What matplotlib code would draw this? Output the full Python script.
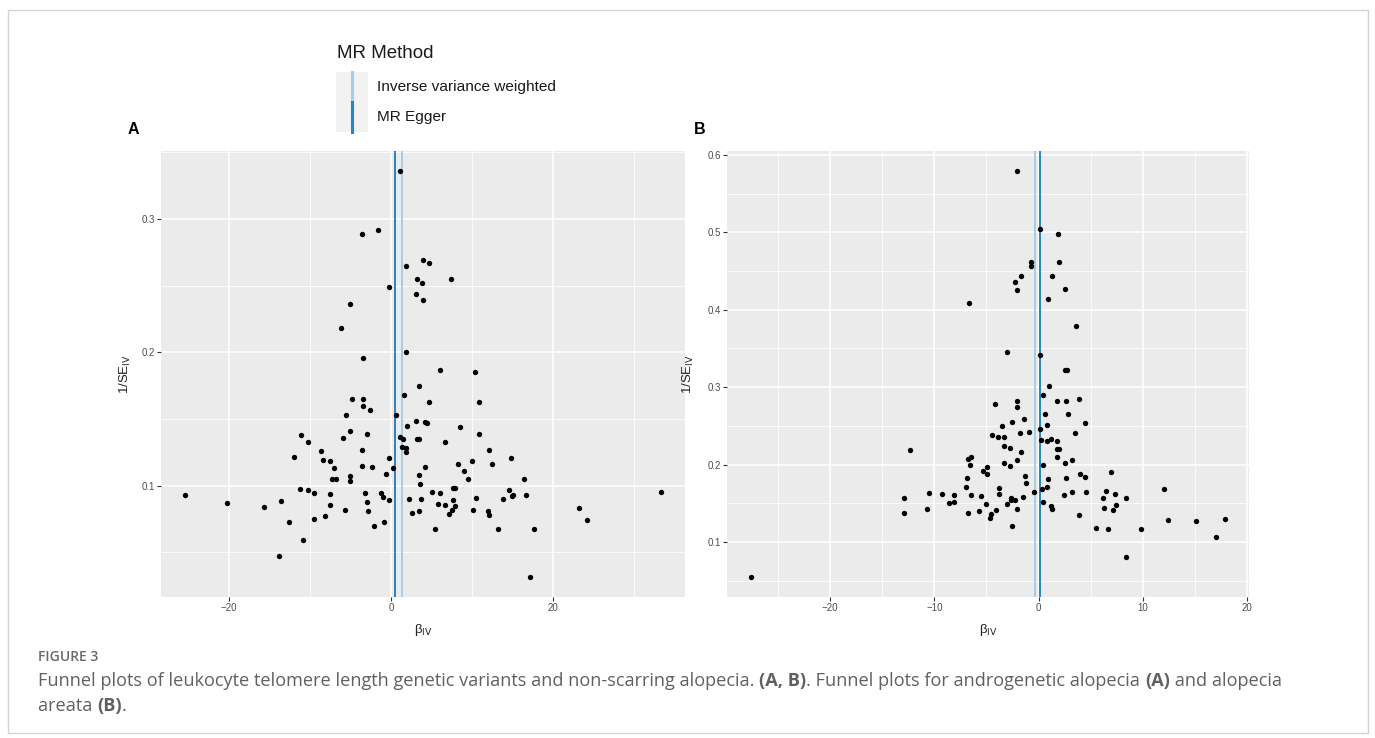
import matplotlib
matplotlib.use('Agg')
import matplotlib.pyplot as plt
from matplotlib.patches import Rectangle
from matplotlib.lines import Line2D

plt.rcParams['font.family'] = ['Liberation Sans', 'DejaVu Sans']

#%% data
# panel A: androgenetic alopecia
a_beta = [1.1, -3.6, -1.6, 1.8, -0.2, -5.0, -6.2, 1.8, -3.5, 4.0, 4.7, 3.2, 3.8, 7.4, 3.1, 4.0,
          6.1, 10.4, -25.4, -20.2, -15.7, -13.5, -12.6, -13.8, -10.9, -11.9, -11.1, -10.2,
          -11.2, -10.2, -9.5, -9.5, -8.6, -8.4, -7.5, -7.0, -7.3, -6.8, -7.5, -7.5, -8.1,
          -5.9, -5.5, -4.75, -5.0, -5.0, -5.1, -5.7, -3.5, -3.5, -2.6, -3.0, -3.6, -3.6,
          -2.3, -3.2, -2.9, -2.8, -2.1, -1.2, -1.0, -0.2, -0.9, -0.6, -0.2, 0.3, 0.6, 1.6,
          1.1, 1.5, 1.3, 1.8, 1.9, 2.0, 2.2, 3.5, 4.7, 10.9, 3.1, 4.25, 4.4, 8.55, 10.8,
          3.2, 3.4, 6.65, 12.1, 14.8, 10.0, 8.3, 12.4, 4.25, 9.05, 3.5, 9.5, 16.4, 3.6,
          7.6, 7.85, 14.6, 33.3, 5.0, 6.1, 15.0, 14.9, 16.6, 3.7, 7.7, 10.45, 13.8, 5.8,
          6.7, 7.9, 7.55, 7.1, 3.5, 2.55, 10.1, 12.0, 12.05, 23.2, 24.2, 5.4, 13.2, 17.6,
          17.2]
a_inv_se = [0.336, 0.289, 0.292, 0.265, 0.249, 0.236, 0.218, 0.200, 0.196, 0.269, 0.267,
            0.255, 0.252, 0.255, 0.244, 0.239, 0.187, 0.185, 0.0927, 0.0872, 0.0842,
            0.0882, 0.0729, 0.0471, 0.0592, 0.1218, 0.138, 0.133, 0.0972, 0.097, 0.0945,
            0.075, 0.126, 0.1195, 0.1186, 0.1135, 0.105, 0.105, 0.0935, 0.0855, 0.077,
            0.136, 0.1526, 0.165, 0.141, 0.1075, 0.1038, 0.0817, 0.1647, 0.160, 0.157,
            0.139, 0.1265, 0.115, 0.114, 0.0945, 0.0875, 0.0807, 0.070, 0.0942, 0.0912,
            0.0892, 0.0727, 0.109, 0.1205, 0.113, 0.153, 0.1677, 0.1366, 0.1346, 0.129,
            0.128, 0.125, 0.145, 0.090, 0.175, 0.163, 0.1627, 0.1486, 0.1476, 0.1466,
            0.1439, 0.139, 0.135, 0.135, 0.133, 0.127, 0.121, 0.1186, 0.116, 0.1165,
            0.1143, 0.1108, 0.108, 0.105, 0.1053, 0.1015, 0.0985, 0.0985, 0.0968, 0.095,
            0.0955, 0.0942, 0.0927, 0.0922, 0.0927, 0.0897, 0.089, 0.091, 0.0897, 0.0862,
            0.0857, 0.0847, 0.0814, 0.079, 0.081, 0.0795, 0.082, 0.081, 0.078, 0.083,
            0.0742, 0.0677, 0.0672, 0.0674, 0.0316]
a_ivw = 1.4
a_egger = 0.46

# panel B: alopecia areata
b_beta = [-2.05, 0.1, 1.9, -0.7, -0.7, 1.95, -1.7, 1.3, -2.25, -2.1, 2.5, 0.9, -6.7, 3.6,
          -3.0, 0.1, 2.55, 2.75, -27.6, -12.3, -12.9, -12.95, -10.55, -10.7, -9.3, -8.55,
          -8.1, -8.1, 1.0, 0.45, -4.2, -2.05, -2.05, 1.8, 2.6, 3.85, 0.6, 2.85, -2.5, -1.4,
          0.8, 4.5, -3.5, 0.1, -4.5, -3.9, -3.3, -1.75, -0.9, 0.2, 0.8, 1.2, 1.75, 3.5,
          -3.3, -2.7, -1.7, 1.75, 1.95, 1.75, -6.8, -6.45, -6.6, -3.3, -2.1, -2.7, 0.4,
          2.5, 3.2, -5.35, -4.9, -4.9, -6.9, -1.3, -1.2, 0.9, 2.6, 4.0, 4.5, 7.0, -7.0,
          -3.8, -3.8, 0.8, 0.35, -0.4, -6.45, -5.5, -5.0, -3.0, -2.6, -2.6, -2.3, -1.5,
          -2.05, 2.45, 3.2, 4.55, 0.4, 1.15, 1.25, -6.8, -5.7, -4.6, -4.7, -4.1, -2.55,
          3.9, 6.5, 6.2, 7.35, 6.25, 7.1, 7.4, 8.4, 5.5, 6.7, 8.4, 9.8, 12.05, 12.4, 15.1,
          17.05, 17.9]
b_inv_se = [0.5787, 0.5045, 0.4976, 0.4613, 0.457, 0.462, 0.443, 0.443, 0.436, 0.4256,
            0.427, 0.4144, 0.409, 0.3794, 0.3458, 0.342, 0.3216, 0.322, 0.0551, 0.2186,
            0.157, 0.1375, 0.1638, 0.142, 0.1617, 0.1505, 0.161, 0.152, 0.301, 0.290,
            0.278, 0.2815, 0.2743, 0.282, 0.2824, 0.285, 0.265, 0.265, 0.2552, 0.2587,
            0.2514, 0.254, 0.2497, 0.2462, 0.238, 0.2358, 0.2354, 0.2406, 0.2423, 0.2316,
            0.231, 0.2336, 0.231, 0.2406, 0.2238, 0.2212, 0.216, 0.22, 0.22, 0.21, 0.207,
            0.2096, 0.1996, 0.2026, 0.206, 0.1987, 0.1992, 0.2022, 0.2057, 0.1914, 0.1966,
            0.188, 0.1828, 0.185, 0.1763, 0.181, 0.1832, 0.1884, 0.184, 0.190, 0.1715,
            0.170, 0.162, 0.171, 0.169, 0.1643, 0.1612, 0.159, 0.1488, 0.1488, 0.1565,
            0.154, 0.1547, 0.158, 0.142, 0.1604, 0.165, 0.1647, 0.1517, 0.1466, 0.1423,
            0.1375, 0.1405, 0.136, 0.131, 0.141, 0.121, 0.1345, 0.1664, 0.1574, 0.1625,
            0.1444, 0.1414, 0.1479, 0.1565, 0.1185, 0.1172, 0.0806, 0.1172, 0.169, 0.128,
            0.127, 0.1069, 0.1294]
b_ivw = -0.38
b_egger = 0.16

methods = ['Inverse variance weighted', 'MR Egger']
colors = ['#A6CEE3', '#2D82BE']

#%% figure
W, H = 1375, 738
fig = plt.figure(figsize=(W / 100, H / 100), dpi=100)


def fx(x):
    return x / W


def fy(y):
    return 1 - y / H


def funnel(rect, beta, inv_se, ivw, egger, xlim, ylim, xmajor, xminor, ymajor, yminor):
    ax = fig.add_axes(rect)
    ax.set_facecolor('#EBEBEB')
    for s in ax.spines.values():
        s.set_visible(False)
    ax.set_xticks(xmajor)
    ax.set_xticks(xminor, minor=True)
    ax.set_yticks(ymajor)
    ax.set_yticks(yminor, minor=True)
    ax.grid(which='major', color='white', linewidth=1.1)
    ax.grid(which='minor', color='white', linewidth=0.55)
    ax.set_axisbelow(True)
    ax.tick_params(which='major', length=3, width=0.8, color='#333333',
                   labelsize=7, labelcolor='#4D4D4D', pad=1.5)
    ax.tick_params(which='minor', length=0)
    ax.axvline(ivw, color=colors[0], linewidth=1.4, zorder=2)
    ax.axvline(egger, color=colors[1], linewidth=1.4, zorder=2)
    ax.scatter(beta, inv_se, s=15, color='black', linewidths=0, zorder=3)
    ax.set_xlim(xlim)
    ax.set_ylim(ylim)
    ax.set_xlabel(r'β$_{\mathrm{IV}}$', fontsize=9.5, color='#222222')
    ax.set_ylabel(r'1/SE$_{\mathrm{IV}}$', fontsize=9.5, color='#222222')
    return ax


axA = funnel([fx(161), fy(597), fx(685 - 161), (597 - 151) / H],
             a_beta, a_inv_se, a_ivw, a_egger,
             (-28.35, 36.25), (0.0164, 0.351),
             [-20, 0, 20], [-10, 10, 30], [0.1, 0.2, 0.3], [0.05, 0.15, 0.25, 0.35])
axA.xaxis.set_label_coords(0.5, -0.055)
axA.yaxis.set_label_coords(-0.053, 0.5)

axB = funnel([fx(727), fy(597), fx(1249 - 727), (597 - 151) / H],
             b_beta, b_inv_se, b_ivw, b_egger,
             (-29.9, 20.2), (0.0289, 0.605),
             [-20, -10, 0, 10, 20], [-25, -15, -5, 5, 15],
             [0.1, 0.2, 0.3, 0.4, 0.5, 0.6], [0.05, 0.15, 0.25, 0.35, 0.45, 0.55])
axB.xaxis.set_label_coords(0.5, -0.055)
axB.yaxis.set_label_coords(-0.06, 0.5)

fig.text(fx(133), fy(130), 'A', fontsize=11.5, fontweight='bold', ha='center', va='center')
fig.text(fx(700), fy(130), 'B', fontsize=11.5, fontweight='bold', ha='center', va='center')

# legend drawn by hand, ggplot style
fig.text(fx(337), fy(54), 'MR Method', fontsize=13.5, va='center', color='#1a1a1a')
for i, (m, c) in enumerate(zip(methods, colors)):
    y0 = 72 + 30 * i
    fig.patches.append(Rectangle((fx(336), fy(y0 + 30)), fx(32), 30 / H,
                                 transform=fig.transFigure, facecolor='#F2F2F2',
                                 edgecolor='none'))
    fig.lines.append(Line2D([fx(351.5), fx(351.5)], [fy(y0), fy(y0 + 30)],
                            transform=fig.transFigure, color=c, linewidth=2.2))
    fig.text(fx(377), fy(y0 + 15), m, fontsize=11.1, va='center', color='#1a1a1a')

# outer frame
fig.patches.append(Rectangle((fx(8), fy(733)), fx(1360), (733 - 10) / H,
                             transform=fig.transFigure, facecolor='none',
                             edgecolor='#d4d4d4', linewidth=1))

# caption
cap = dict(family=['Open Sans', 'DejaVu Sans'], color='#606060', va='center')
fig.text(fx(38), fy(657), 'FIGURE 3', fontsize=10, fontweight='semibold',
         **dict(cap, color='#6a6a6a'))

renderer = fig.canvas.get_renderer()


def runs(x, y, parts, size):
    # write text pieces one after another, some of them bold
    for txt, weight in parts:
        fig.text(fx(x), fy(y), txt, fontsize=size, fontweight=weight, **cap)
        probe = fig.text(0, 0, '|' + txt + '|', fontsize=size, fontweight=weight, **cap)
        bar = fig.text(0, 0, '||', fontsize=size, fontweight=weight, **cap)
        x += probe.get_window_extent(renderer).width - bar.get_window_extent(renderer).width
        probe.remove()
        bar.remove()


runs(38, 681, [('Funnel plots of leukocyte telomere length genetic variants and non-scarring alopecia. ', 'normal'),
               ('(A, B)', 'bold'),
               ('. Funnel plots for androgenetic alopecia ', 'normal'),
               ('(A)', 'bold'),
               (' and alopecia', 'normal')], 13.1)
runs(38, 706, [('areata ', 'normal'), ('(B)', 'bold'), ('.', 'normal')], 13.1)

fig.savefig('out.png', dpi=100)
